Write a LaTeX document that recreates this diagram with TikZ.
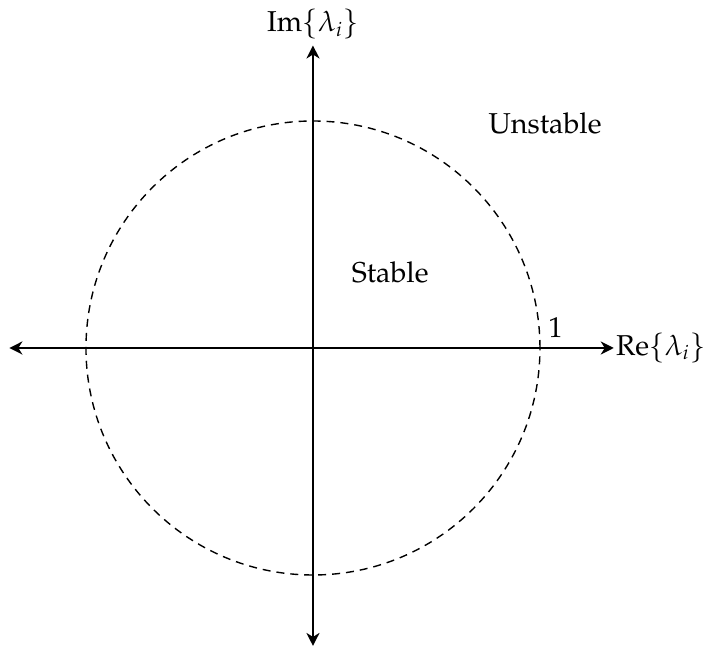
\documentclass[tikz,border=0pt,12pt]{standalone}
\usepackage[T1]{fontenc}
\usepackage{mathpazo}
\usetikzlibrary{arrows.meta}
\begin{document}
\begin{tikzpicture}[>={Stealth[length=6.5pt,width=6.5pt,inset=2pt]},axis/.style={line width=1.2pt,<->},unitcircle/.style={line width=0.7pt,dash pattern=on 4pt off 3pt},every node/.style={font=\large}]
\useasboundingbox (-5.515,-5.322) rectangle (6.943,6.132);
\coordinate (O) at (0,0);
\coordinate (xl) at (-5.35,0);
\coordinate (xr) at (5.3,0);
\coordinate (yb) at (0,-5.25);
\coordinate (yt) at (0,5.33);
\coordinate (one) at (4,0);
\draw[unitcircle] (O) circle (4);
\draw[axis] (xl) -- (xr);
\draw[axis] (yb) -- (yt);
\node[right,inner sep=1pt] (re) at (xr) {Re$\{\lambda_i\}$};
\node[above,inner sep=3pt] (im) at (yt) {Im$\{\lambda_i\}$};
\node[anchor=south west,inner sep=0pt,xshift=4pt,yshift=5pt] (onelabel) at (one) {1};
\node (stable) at (1.36,1.34) {Stable};
\node (unstable) at (4.09,3.96) {Unstable};
\end{tikzpicture}
\end{document}
